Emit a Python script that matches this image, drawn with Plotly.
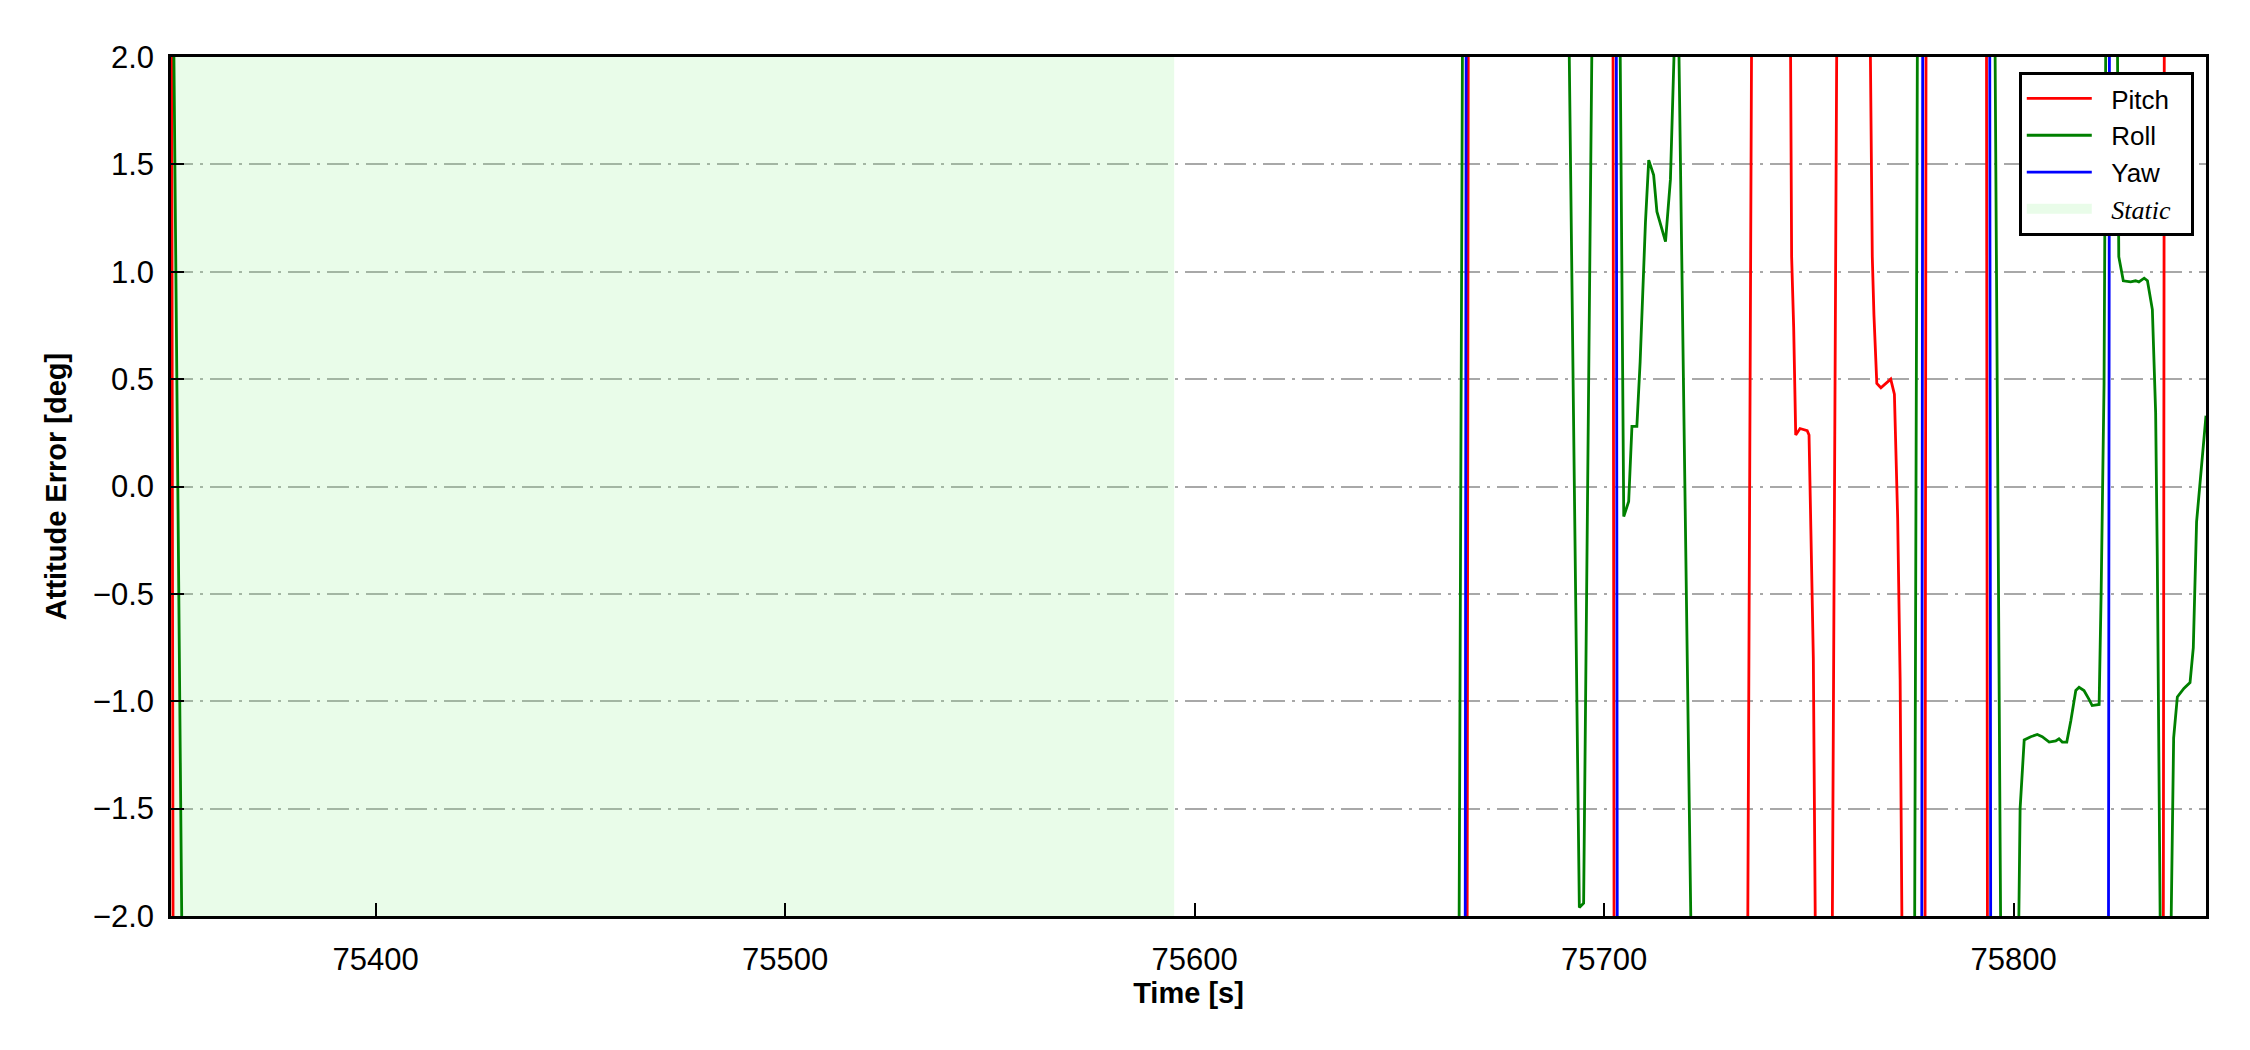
import plotly.graph_objects as go

# ---------------- data ----------------
pitch_time = [75350.0, 75351.0, 75420.0, 75510.0, 75600.0, 75666.2, 75667.2, 75690.0, 75701.8, 75702.8,
              75720.0, 75734.5, 75736.5, 75745.0, 75745.8, 75746.3, 75746.8, 75747.85, 75749.6, 75750.05,
              75750.5, 75751.1, 75751.6, 75752.2, 75755.2, 75757.3, 75764.5, 75765.5, 75765.9, 75766.6,
              75767.6, 75768.8, 75770.0, 75770.9, 75771.7, 75772.3, 75772.9, 75773.5, 75778.0, 75779.0,
              75793.0, 75794.0, 75815.0, 75836.2, 75837.2, 75847.0]
pitch_err = [4.0, -8.0, -11.5, -9.8, -8.4, -7.5, 7.8, 9.6, 8.4, -8.1,
             -6.9, -4.67, 4.22, 4.0, 1.07, 0.74, 0.24, 0.27, 0.26, 0.24,
             -0.2, -0.8, -2.1, -4.0, -4.1, 3.9, 3.1, 1.07, 0.8, 0.48,
             0.46, 0.48, 0.5, 0.43, -0.15, -0.9, -2.05, -4.0, -8.8, 8.6,
             9.2, -8.9, -9.5, -8.7, 8.9, 9.8]

roll_time = [75350.0, 75353.0, 75380.0, 75450.0, 75530.0, 75610.0, 75664.2, 75665.8, 75680.0, 75691.0,
             75693.95, 75695.0, 75697.5, 75700.5, 75703.5, 75704.8, 75706.0, 75706.8, 75708.0, 75708.8,
             75710.1, 75710.9, 75712.1, 75712.9, 75715.0, 75716.2, 75717.9, 75721.6, 75740.0, 75760.0,
             75775.5, 75777.0, 75786.0, 75795.0, 75797.2, 75800.5, 75801.6, 75802.6, 75804.2, 75805.8,
             75807.0, 75808.7, 75810.3, 75811.1, 75811.9, 75813.0, 75814.0, 75815.2, 75816.0, 75817.2,
             75818.4, 75819.2, 75820.9, 75821.4, 75822.1, 75823.0, 75825.0, 75825.7, 75826.8, 75828.6,
             75829.8, 75830.6, 75831.9, 75832.7, 75833.9, 75834.7, 75835.1, 75836.3, 75838.0, 75839.1,
             75840.0, 75841.6, 75843.1, 75843.9, 75844.7, 75845.7, 75846.7, 75847.0]
roll_err = [3.5, -2.8, -5.2, -7.6, -6.3, -5.1, -4.0, 4.0, 5.6, 2.8,
            -1.96, -1.94, 3.0, 4.4, 3.1, -0.14, -0.07, 0.28, 0.28, 0.58,
            1.23, 1.52, 1.45, 1.28, 1.14, 1.43, 2.55, -2.6, -5.8, -6.4,
            -4.2, 5.1, 6.3, 3.5, -3.1, -3.3, -1.5, -1.18, -1.165, -1.155,
            -1.165, -1.19, -1.185, -1.175, -1.19, -1.19, -1.09, -0.95, -0.935, -0.95,
            -0.99, -1.02, -1.015, -0.485, 0.48, 3.9, 3.2, 1.07, 0.958, 0.953,
            0.958, 0.953, 0.97, 0.958, 0.824, 0.343, -0.325, -3.2, -2.7, -1.17,
            -0.98, -0.94, -0.913, -0.75, -0.165, 0.05, 0.263, 0.33]

yaw_time = [75350.0, 75430.0, 75540.0, 75665.7, 75666.7, 75685.0, 75702.6, 75703.6, 75740.0, 75777.2,
            75778.2, 75793.8, 75794.8, 75822.8, 75823.8, 75847.0]
yaw_err = [-8.3, -10.2, -9.1, -9.0, 9.0, 10.4, 9.0, -9.0, -11.0, -9.0,
           9.0, 9.0, -9.0, -9.0, 9.0, 8.5]

static_start, static_end = 75350.0, 75595.0
y_limits = [-2.0, 2.0]
x_ticks = [75400, 75500, 75600, 75700, 75800]
y_ticks = [-2.0, -1.5, -1.0, -0.5, 0.0, 0.5, 1.0, 1.5, 2.0]

# ---------------- figure ----------------
SANS = "Liberation Sans, Arial, sans-serif"
STATIC_COLOR = "rgba(144,238,144,0.2)"
GAP = "\u00a0\u00a0"
TAIL = "\u00a0\u00a0"
fig = go.Figure()

# static period shading
fig.add_trace(go.Scatter(
    x=[static_start, static_end, static_end, static_start],
    y=[y_limits[0], y_limits[0], y_limits[1], y_limits[1]],
    fill="toself", fillcolor=STATIC_COLOR, mode="none",
    showlegend=False, hoverinfo="skip"))

for t, v, nm, col, rk in [(pitch_time, pitch_err, "Pitch", "#ff0000", 1),
                          (roll_time, roll_err, "Roll", "#008000", 2),
                          (yaw_time, yaw_err, "Yaw", "#0000ff", 3)]:
    fig.add_trace(go.Scatter(x=t, y=v, mode="lines", name=GAP + nm + TAIL,
                             line=dict(color=col, width=2.8), legendrank=rk))

# legend entry for the static shading
fig.add_trace(go.Scatter(
    x=[None], y=[None], mode="lines",
    line=dict(color=STATIC_COLOR, width=18),
    name=GAP + '<span style="font-family:Liberation Serif, Times New Roman, serif"><i>Static</i></span>' + TAIL,
    legendrank=4, hoverinfo="skip"))

fig.update_layout(
    width=2234, height=1034,
    margin=dict(l=163, r=36, t=49, b=126),
    paper_bgcolor="white", plot_bgcolor="white",
    font=dict(family=SANS, color="black", size=31),
    showlegend=True,
    legend=dict(x=0.908, y=0.9825, xanchor="left", yanchor="top",
                bgcolor="white", bordercolor="black", borderwidth=3,
                font=dict(family=SANS, size=26, color="black"),
                tracegroupgap=0, itemwidth=65),
)

fig.update_xaxes(
    range=[pitch_time[0], pitch_time[-1]], tickvals=x_ticks, tickformat="d",
    showgrid=False, zeroline=False,
    showline=True, linecolor="black", linewidth=2.5, mirror=True,
    ticks="inside", ticklen=13, tickwidth=2, tickcolor="black",
    ticklabelstandoff=14,
    tickfont=dict(family=SANS, size=31, color="black"),
    title=dict(text="<b>Time [s]</b>", font=dict(family=SANS, size=29, color="black"), standoff=6),
)
fig.update_yaxes(
    range=y_limits, tickvals=y_ticks, tickformat=".1f",
    showgrid=True, gridcolor="#a8a8a8", gridwidth=2, griddash="22px,7px,3px,7px",
    zeroline=False,
    showline=True, linecolor="black", linewidth=2.5, mirror=True,
    ticks="inside", ticklen=13, tickwidth=2, tickcolor="black",
    ticklabelstandoff=8,
    tickfont=dict(family=SANS, size=31, color="black"),
    title=dict(text="<b>Attitude Error [deg]</b>", font=dict(family=SANS, size=29, color="black"), standoff=18),
)

fig.write_html("out.html")
